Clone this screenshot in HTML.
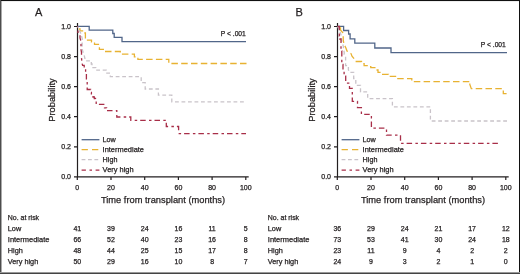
<!DOCTYPE html>
<html><head><meta charset="utf-8">
<style>
html,body{margin:0;padding:0;background:#fff;}
body{width:520px;height:274px;overflow:hidden;position:relative;}
svg{position:absolute;left:0;top:0;will-change:transform;}
text{font-family:"Liberation Sans",sans-serif;fill:#231f20;stroke:#231f20;stroke-width:0.25px;}
.tk{font-size:7px;}
.pv{font-size:6.7px;}
.lg{font-size:7.2px;}
.ax{font-size:9.3px;}
.tb{font-size:7px;}
.tl{font-size:7.3px;}
.pl{font-size:11px;}
</style></head>
<body>
<svg width="520" height="274" viewBox="0 0 520 274">
<rect x="0" y="0" width="520" height="274" fill="#fff"/>
<g id="axesA">
  <path d="M77.5,23 V177.4 M74,26.5 H77.5 M74,56.6 H77.5 M74,86.7 H77.5 M74,116.7 H77.5 M74,146.8 H77.5 M74,176.8 H248.7 M77.3,177 V180 M111,177 V180 M144.7,177 V180 M178.4,177 V180 M212.1,177 V180 M245.8,177 V180" stroke="#231f20" stroke-width="1.2" fill="none"/>
  <g class="tk" text-anchor="end"><text x="71" y="28.5">1.0</text><text x="71" y="58.6">0.8</text><text x="71" y="88.7">0.6</text><text x="71" y="118.7">0.4</text><text x="71" y="148.8">0.2</text><text x="71" y="178.8">0.0</text></g>
  <g class="tk" text-anchor="middle"><text x="77.3" y="190">0</text><text x="111" y="190">20</text><text x="144.7" y="190">40</text><text x="178.4" y="190">60</text><text x="212.1" y="190">80</text><text x="245.8" y="190">100</text></g>
  <text class="ax" x="163" y="203" text-anchor="middle">Time from transplant (months)</text>
  <text class="ax" transform="translate(55,100) rotate(-90)" text-anchor="middle">Probability</text>
  <path d="M81.6,139.7 H99.4" stroke="#516689" stroke-width="1.3"/>
  <path d="M81.6,149.7 H99.4" stroke="#e8b232" stroke-width="1.3" stroke-dasharray="6.3 4.1"/>
  <path d="M81.6,159.7 H99.4" stroke="#c9c3c9" stroke-width="1.3" stroke-dasharray="3.8 2.6"/>
  <path d="M81.6,170.1 H99.4" stroke="#a82e48" stroke-width="1.3" stroke-dasharray="4.3 3.6 2.5 3.6"/>
  <g class="lg">
    <text x="102.6" y="142.3">Low</text>
    <text x="102.6" y="152.4" textLength="41.4" lengthAdjust="spacingAndGlyphs">Intermediate</text>
    <text x="102.6" y="162.4">High</text>
    <text x="102.6" y="172.4" textLength="31" lengthAdjust="spacingAndGlyphs">Very high</text>
  </g>
  <g class="tl">
    <text x="7.8" y="219.7" textLength="31.3" lengthAdjust="spacingAndGlyphs">No. at risk</text>
    <text x="7.8" y="230.6">Low</text>
    <text x="7.8" y="241.6" textLength="41.6" lengthAdjust="spacingAndGlyphs">Intermediate</text>
    <text x="7.8" y="252.7">High</text>
    <text x="7.8" y="263.6">Very high</text>
  </g>
</g>

<text class="pl" x="35" y="16">A</text>
<text class="pv" x="245.8" y="36.2" text-anchor="end">P &lt; .001</text>
<g fill="none" stroke-width="1.3">
  <path d="M77.5,26.4 H89.2 V30.2 H112.8 V33.5 H114.2 V37.4 H122 V41.7 H246" stroke="#516689"/>
  <path d="M77.5,27.5 L78.8,28.8 H80 V30.8 H84.3 V33 H85.4 V40.2 H91.5 V42 H94.5 V44.3 H99.4 V49.3 H103.3 V51.5 H120.3 V54.2 H134.4 V56.8 H137.9 V59.4 H168.8 V63.5 H246.5" stroke="#e8b232" stroke-dasharray="6.5 3.3" stroke-dashoffset="8.06"/>
  <path d="M77.5,26.5 L79,29.6 L80.5,32.7 L81.5,35.8 L82.2,38.5 V48.4 L82.8,51.5 L84,54.7 L84.8,57.8 L85.2,60.8 H91.3 V64 H92 V67.6 H95.7 V70.2 H106.2 V73.2 H110.3 V76.7 H141.2 V82.7 H145.2 V89 H158.4 V95.1 H171.8 V101.9 H244" stroke="#c9c3c9" stroke-dasharray="3.8 2.7" stroke-dashoffset="2.46"/>
  <path d="M77.5,26.5 L78,28 V33 L80,35 V38 L80.6,40.2 L81,44.5 V49.5 L81.5,52.5 V58 L81.8,60.8 V62.5 L82.6,65.3 H84.2 V68.7 H85.6 V73 H86.4 V80.7 H87.2 V89.5 H90.6 V92.5 H91.4 V95.5 H93 V97 H94.3 V98.5 H95.5 V100 H96.2 V104.4 H104.5 V107.8 H106.6 V110.6 H116.8 V117 H130.8 V120.3 H166.3 V126.5 H178.6 V133.6 H246" stroke="#a82e48" stroke-dasharray="2.5 3.0 5.5 3.3" stroke-dashoffset="10.22"/>
</g>
<g class="tb" text-anchor="middle"><text x="77.3" y="230.5">41</text><text x="111.0" y="230.5">39</text><text x="144.7" y="230.5">24</text><text x="178.4" y="230.5">16</text><text x="212.1" y="230.5">11</text><text x="245.8" y="230.5">5</text><text x="77.3" y="241.6">66</text><text x="111.0" y="241.6">52</text><text x="144.7" y="241.6">40</text><text x="178.4" y="241.6">23</text><text x="212.1" y="241.6">16</text><text x="245.8" y="241.6">8</text><text x="77.3" y="252.7">48</text><text x="111.0" y="252.7">44</text><text x="144.7" y="252.7">25</text><text x="178.4" y="252.7">15</text><text x="212.1" y="252.7">17</text><text x="245.8" y="252.7">8</text><text x="77.3" y="263.6">50</text><text x="111.0" y="263.6">29</text><text x="144.7" y="263.6">16</text><text x="178.4" y="263.6">10</text><text x="212.1" y="263.6">8</text><text x="245.8" y="263.6">7</text></g>
<g transform="translate(260,0)">
  <path d="M77.5,23 V177.4 M74,26.5 H77.5 M74,56.6 H77.5 M74,86.7 H77.5 M74,116.7 H77.5 M74,146.8 H77.5 M74,176.8 H248.7 M77.3,177 V180 M111,177 V180 M144.7,177 V180 M178.4,177 V180 M212.1,177 V180 M245.8,177 V180" stroke="#231f20" stroke-width="1.2" fill="none"/>
  <g class="tk" text-anchor="end"><text x="71" y="28.5">1.0</text><text x="71" y="58.6">0.8</text><text x="71" y="88.7">0.6</text><text x="71" y="118.7">0.4</text><text x="71" y="148.8">0.2</text><text x="71" y="178.8">0.0</text></g>
  <g class="tk" text-anchor="middle"><text x="77.3" y="190">0</text><text x="111" y="190">20</text><text x="144.7" y="190">40</text><text x="178.4" y="190">60</text><text x="212.1" y="190">80</text><text x="245.8" y="190">100</text></g>
  <text class="ax" x="163" y="203" text-anchor="middle">Time from transplant (months)</text>
  <text class="ax" transform="translate(55,100) rotate(-90)" text-anchor="middle">Probability</text>
  <path d="M81.6,139.7 H99.4" stroke="#516689" stroke-width="1.3"/>
  <path d="M81.6,149.7 H99.4" stroke="#e8b232" stroke-width="1.3" stroke-dasharray="6.3 4.1"/>
  <path d="M81.6,159.7 H99.4" stroke="#c9c3c9" stroke-width="1.3" stroke-dasharray="3.8 2.6"/>
  <path d="M81.6,170.1 H99.4" stroke="#a82e48" stroke-width="1.3" stroke-dasharray="4.3 3.6 2.5 3.6"/>
  <g class="lg">
    <text x="102.6" y="142.3">Low</text>
    <text x="102.6" y="152.4" textLength="41.4" lengthAdjust="spacingAndGlyphs">Intermediate</text>
    <text x="102.6" y="162.4">High</text>
    <text x="102.6" y="172.4" textLength="31" lengthAdjust="spacingAndGlyphs">Very high</text>
  </g>
  <g class="tl">
    <text x="7.8" y="219.7" textLength="31.3" lengthAdjust="spacingAndGlyphs">No. at risk</text>
    <text x="7.8" y="230.6">Low</text>
    <text x="7.8" y="241.6" textLength="41.6" lengthAdjust="spacingAndGlyphs">Intermediate</text>
    <text x="7.8" y="252.7">High</text>
    <text x="7.8" y="263.6">Very high</text>
  </g></g>
<text class="pl" x="295.5" y="16">B</text>
<text class="pv" x="505.8" y="46.9" text-anchor="end">P &lt; .001</text>
<g fill="none" stroke-width="1.3">
  <path d="M337.5,26.4 H343.6 V30.5 H348.6 V34 H350.1 V38.9 H354.8 V43.2 H374.8 V48 H391 V52.7 H507" stroke="#516689"/>
  <path d="M337.5,26.5 L340.5,27.5 V30 L342.7,32.6 L343.2,35 V40 L344,44 L346,48.3 L347,51 L351,53.6 L352,56.2 L354.7,59.4 L355.6,61.5 H361.5 V63.6 H364.1 V65.6 H368.5 V66.7 H370.8 V67.7 H376.5 V70 H378 V72.4 H380.7 V74.3 H388.5 V76.4 H396.3 V78.7 H411.8 V81.7 H469.8" stroke="#e8b232" stroke-dasharray="6.5 3.3" stroke-dashoffset="6.75"/>
  <path d="M469.8,81.7 V84.4 L471.3,88.6 H503.3 V93.6 H507" stroke="#e8b232" stroke-dasharray="6.5 3.3" stroke-dashoffset="8.04"/>
  <path d="M337.5,26.5 L339.5,30 L341.3,36 V40 L343.4,46.5 V49.5 L344.2,52.1 V54.5 L345.6,56.5 V65.6 H348.4 V69.8 L349.4,72.3 H353.7 V78.5 H355.8 V85.4 H360.5 V91.9 H367.7 V98.6 H392.4 V106.8 H430.4 V121 H507" stroke="#c9c3c9" stroke-dasharray="3.8 2.7" stroke-dashoffset="0.52"/>
  <path d="M337.5,26.5 H339.3 V36 H339.8 V39 H341 V51 H341.8 V64.4 H343 V70.5 H344.1 V76.1 H345.7 V83.2 H349.5 V88.4 H352.3 V101.3 H357.5 V107.7 H361.4 V114.3 H371.4 V128.2 H386.5 V135.2 H400.5 V143.4 H498" stroke="#a82e48" stroke-dasharray="2.5 3.0 5.5 3.3" stroke-dashoffset="5.4"/>
</g>
<g class="tb" text-anchor="middle"><text x="337.3" y="230.5">36</text><text x="371.0" y="230.5">29</text><text x="404.7" y="230.5">24</text><text x="438.4" y="230.5">21</text><text x="472.1" y="230.5">17</text><text x="505.8" y="230.5">12</text><text x="337.3" y="241.6">73</text><text x="371.0" y="241.6">53</text><text x="404.7" y="241.6">41</text><text x="438.4" y="241.6">30</text><text x="472.1" y="241.6">24</text><text x="505.8" y="241.6">18</text><text x="337.3" y="252.7">23</text><text x="371.0" y="252.7">11</text><text x="404.7" y="252.7">9</text><text x="438.4" y="252.7">4</text><text x="472.1" y="252.7">2</text><text x="505.8" y="252.7">2</text><text x="337.3" y="263.6">24</text><text x="371.0" y="263.6">9</text><text x="404.7" y="263.6">3</text><text x="438.4" y="263.6">2</text><text x="472.1" y="263.6">1</text><text x="505.8" y="263.6">0</text></g>
<rect x="0" y="0" width="520" height="1" fill="#111"/>
<rect x="0" y="1" width="520" height="1" fill="#eee"/>
<rect x="0" y="0" width="1" height="274" fill="#4d4d4d"/>
<rect x="1" y="1" width="1" height="272" fill="#aaa"/>
<rect x="519" y="0" width="1" height="274" fill="#111"/>
<rect x="0" y="272" width="520" height="1" fill="#999"/>
<rect x="0" y="273" width="520" height="1" fill="#444"/>
</svg>
</body></html>
